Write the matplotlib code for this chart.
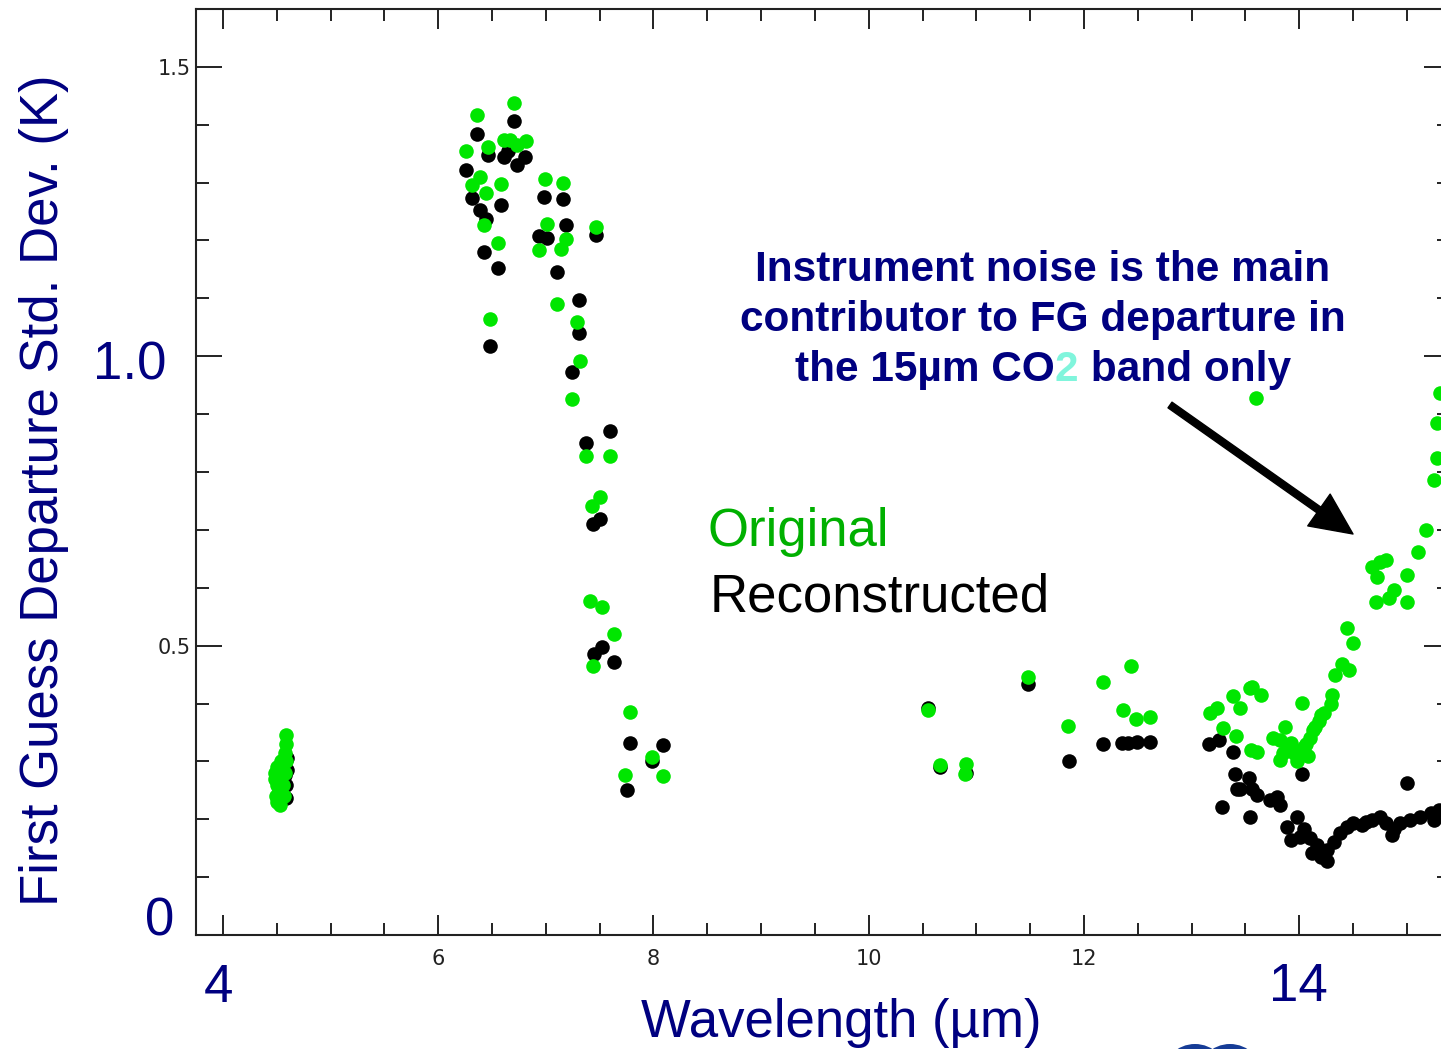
import numpy as np
import matplotlib
matplotlib.use("Agg")
import matplotlib.pyplot as plt
from matplotlib.patches import Ellipse

# Original (green) first-guess departure std. dev. values
green_x = [4.59, 4.59, 4.58, 4.59, 4.54, 4.50, 4.48, 4.48, 4.50, 4.52, 4.49, 4.50, 4.53, 4.57, 4.56, 4.58,
           6.70, 6.36, 6.26, 6.46, 6.61, 6.67, 6.73, 6.82, 6.39, 6.31, 6.44, 6.58, 6.43, 6.56, 6.99, 7.16,
           7.01, 6.94, 7.19, 7.14, 7.47, 6.48, 7.10, 7.29, 7.32,
           7.24, 7.37, 7.60, 7.50, 7.43, 7.41, 7.52, 7.63, 7.44, 7.78, 7.99, 7.74, 8.09,
           10.55, 10.66, 10.90, 10.89, 11.48, 11.85, 12.18, 12.44, 12.36, 12.48, 12.61,
           13.17, 13.24, 13.38, 13.29, 13.41, 13.56, 13.64, 13.545, 13.45, 13.55, 13.61, 13.60,
           13.87, 13.82, 13.92, 13.85, 13.76, 13.95, 13.82, 14.01, 14.04, 14.10, 14.13, 14.18, 14.23,
           14.29, 14.30, 14.025, 14.335, 14.40, 14.46, 14.44, 14.50, 14.06, 14.15, 14.20, 14.08, 13.98, 13.90,
           14.675, 14.75, 14.81, 14.72, 14.88, 14.83, 14.71, 15.00, 15.00, 15.10, 15.18, 15.25, 15.28,
           15.28, 15.31]
green_y = [0.345, 0.33, 0.315, 0.30, 0.30, 0.29, 0.28, 0.27, 0.26, 0.25, 0.24, 0.23, 0.225, 0.24, 0.26, 0.28,
           1.437, 1.416, 1.355, 1.362, 1.374, 1.374, 1.365, 1.372, 1.309, 1.296, 1.282, 1.298, 1.227, 1.196, 1.306, 1.299,
           1.228, 1.184, 1.203, 1.185, 1.224, 1.064, 1.090, 1.060, 0.992,
           0.926, 0.827, 0.828, 0.756, 0.742, 0.577, 0.567, 0.520, 0.464, 0.385, 0.308, 0.276, 0.275,
           0.388, 0.294, 0.295, 0.279, 0.446, 0.361, 0.438, 0.464, 0.389, 0.373, 0.376,
           0.383, 0.392, 0.413, 0.357, 0.343, 0.429, 0.415, 0.426, 0.392, 0.320, 0.317, 0.927,
           0.360, 0.337, 0.331, 0.314, 0.340, 0.314, 0.302, 0.317, 0.325, 0.340, 0.354, 0.369, 0.383,
           0.400, 0.415, 0.401, 0.449, 0.469, 0.458, 0.530, 0.504, 0.33, 0.36, 0.38, 0.31, 0.30, 0.32,
           0.636, 0.645, 0.648, 0.619, 0.596, 0.582, 0.576, 0.622, 0.576, 0.661, 0.699, 0.786, 0.824,
           0.885, 0.937]

# Reconstructed (black) values
black_x = [4.58, 4.595, 4.59, 4.60, 4.59,
           6.70, 6.36, 6.26, 6.46, 6.61, 6.65, 6.73, 6.81, 6.31, 6.39, 6.44, 6.58, 6.43, 6.56, 6.98, 7.16,
           6.94, 7.01, 7.19, 7.47, 7.10, 7.31, 7.31, 6.48, 7.24,
           7.60, 7.37, 7.44, 7.50, 7.45, 7.52, 7.63, 7.78, 8.09, 7.75, 7.99,
           10.55, 10.66, 10.90, 11.48, 11.86, 12.18, 12.35, 12.41, 12.49, 12.61,
           13.16, 13.25, 13.38, 13.40, 13.42, 13.28, 13.53, 13.45, 13.56, 13.61, 13.73, 13.79, 13.82, 13.545,
           14.025, 13.885, 13.98, 14.04, 14.10, 14.16, 14.20, 14.26, 14.32, 14.38, 14.44, 14.50, 13.92, 14.01,
           14.12, 14.26, 14.58, 14.62, 14.675, 14.75, 14.81, 14.88, 14.94, 15.03, 15.12, 15.22, 15.30, 15.25,
           14.86, 15.00]
black_y = [0.276, 0.285, 0.237, 0.305, 0.26,
           1.407, 1.384, 1.322, 1.348, 1.344, 1.354, 1.331, 1.344, 1.273, 1.253, 1.238, 1.261, 1.180, 1.152, 1.275, 1.272,
           1.208, 1.204, 1.227, 1.210, 1.145, 1.098, 1.041, 1.018, 0.972,
           0.871, 0.850, 0.710, 0.719, 0.486, 0.498, 0.471, 0.332, 0.328, 0.251, 0.30,
           0.392, 0.29, 0.28, 0.433, 0.301, 0.330, 0.332, 0.332, 0.334, 0.334,
           0.330, 0.337, 0.317, 0.279, 0.253, 0.222, 0.271, 0.253, 0.253, 0.242, 0.233, 0.239, 0.225, 0.204,
           0.279, 0.187, 0.204, 0.184, 0.167, 0.156, 0.135, 0.147, 0.161, 0.176, 0.187, 0.193, 0.164, 0.170,
           0.141, 0.127, 0.19, 0.195, 0.199, 0.204, 0.193, 0.184, 0.193, 0.199, 0.204, 0.210, 0.216, 0.199,
           0.173, 0.262]

x_major = [4, 6, 8, 10, 12, 14]
x_labels = ["", "6", "8", "10", "12", ""]
y_major = [0, 0.5, 1.0, 1.5]
y_labels = ["", "0.5", "", "1.5"]

NAVY = "#000080"
W, H = 1441, 1049


def fx(px):
    return px / W


def fy(py):
    return 1 - py / H


plt.rcParams["font.family"] = ["Liberation Sans", "DejaVu Sans"]

fig = plt.figure(figsize=(W / 100, H / 100), dpi=100)
ax = fig.add_axes([fx(196), fy(935), fx(1450) - fx(196), fy(9) - fy(935)])

ax.scatter(black_x, black_y, s=110, c="black", marker="o", linewidths=0, zorder=3)
ax.scatter(green_x, green_y, s=110, c="#00e600", marker="o", linewidths=0, zorder=4)

ax.set_xlim(3.75, 15.4)
ax.set_ylim(0, 1.6)
ax.set_xticks(x_major, x_labels)
ax.set_xticks(np.arange(4, 15.5, 0.5), minor=True)
ax.set_yticks(y_major, y_labels)
ax.set_yticks(np.arange(0, 1.61, 0.1), minor=True)

ax.tick_params(axis="both", which="both", direction="in", top=True, right=True,
               width=1.4, color="#222222", labelsize=15, labelcolor="#222222",
               labelfontfamily="DejaVu Sans")
ax.tick_params(axis="x", which="major", length=14.4, pad=10)
ax.tick_params(axis="x", which="minor", length=8.6)
ax.tick_params(axis="y", which="major", length=18.7, pad=4)
ax.tick_params(axis="y", which="minor", length=9.4)
for sp in ax.spines.values():
    sp.set_linewidth(1.5)
    sp.set_color("#222222")

# big overlaid axis labels
fig.text(fx(130), fy(366), "1.0", fontsize=38, color=NAVY, ha="center", va="center")
fig.text(fx(160), fy(922), "0", fontsize=38, color=NAVY, ha="center", va="center")
fig.text(fx(218), fy(988), "4", fontsize=38, color=NAVY, ha="center", va="center")
fig.text(fx(1298), fy(987), "14", fontsize=38, color=NAVY, ha="center", va="center")
fig.text(fx(841), fy(1037), "Wavelength (µm)", fontsize=38, color=NAVY, ha="center", va="baseline")
fig.text(fx(44), fy(490), "First Guess Departure Std. Dev. (K)", fontsize=38, color=NAVY,
         ha="center", va="center", rotation=90)

# legend text
fig.text(fx(708), fy(546), "Original", fontsize=38, color="#00b000", ha="left", va="baseline")
fig.text(fx(710), fy(611), "Reconstructed", fontsize=38, color="black", ha="left", va="baseline")

# annotation
fig.text(fx(1043), fy(281), "Instrument noise is the main", fontsize=30.5, fontweight="bold",
         color=NAVY, ha="center", va="baseline")
fig.text(fx(1043), fy(331), "contributor to FG departure in", fontsize=30.5, fontweight="bold",
         color=NAVY, ha="center", va="baseline")

pieces = [("the 15µm CO", NAVY), ("2", "#80f5dc"), (" band only", NAVY)]
fig.canvas.draw()
renderer = fig.canvas.get_renderer()
arts = []
for s, col in pieces:
    t = fig.text(0, fy(381), s, fontsize=30.5, fontweight="bold", color=col, ha="left", va="baseline")
    arts.append(t)
widths = [t.get_window_extent(renderer).width for t in arts]
x0 = 1043 - sum(widths) / 2
for t, w in zip(arts, widths):
    t.set_x(fx(x0))
    x0 += w

ax.annotate("", xy=(fx(1353), fy(534)), xytext=(fx(1170), fy(405)),
            xycoords="figure fraction", textcoords="figure fraction",
            arrowprops=dict(facecolor="black", edgecolor="black", width=5,
                            headwidth=28, headlength=30, shrink=0),
            annotation_clip=False)

# bottom edge of the logo
for cx in (1195, 1230):
    fig.add_artist(Ellipse((fx(cx), fy(1077)), 66 / W, 66 / H, transform=fig.transFigure,
                           facecolor="#163c96", edgecolor="none"))

fig.savefig("out.png", dpi=100)
